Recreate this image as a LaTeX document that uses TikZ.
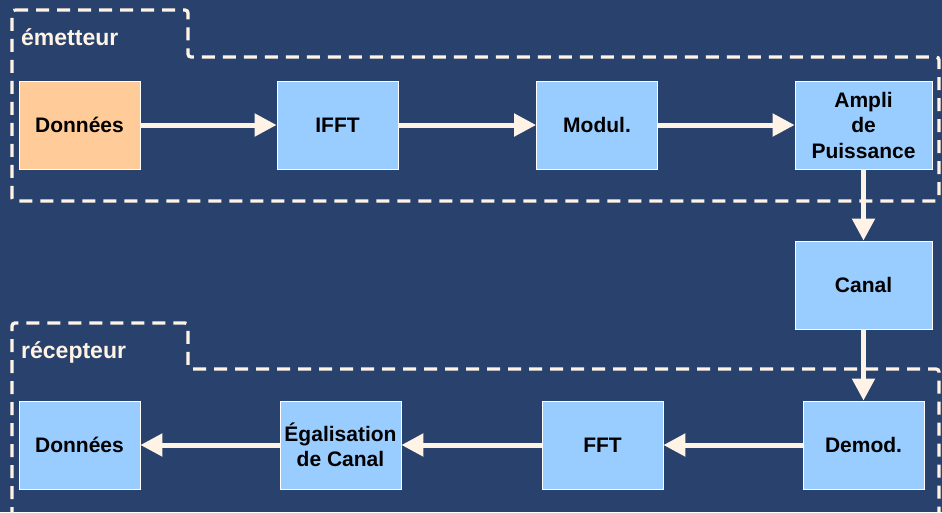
\documentclass[tikz,border=0pt]{standalone}
\usepackage{fontspec}
\setmainfont{Liberation Sans}
\usetikzlibrary{arrows.meta}
\definecolor{bgblue}{HTML}{28426D}
\definecolor{boxblue}{HTML}{99CCFF}
\definecolor{boxorange}{HTML}{FFCC99}
\definecolor{cream}{HTML}{FFF3E6}
\begin{document}
\begin{tikzpicture}[x=1pt, y=-1pt, line cap=butt,
  block/.style={draw=white, line width=0.8pt, fill=boxblue, minimum width=121pt,
    minimum height=88pt, inner sep=0pt, align=center,
    font=\fontsize{21}{25.5}\selectfont\bfseries},
  wide/.style={block, minimum width=137pt},
  flow/.style={cream, line width=5pt, -{Triangle[length=22pt, width=22pt]}},
  zone/.style={cream, line width=3.3pt, dash pattern=on 13pt off 8pt, rounded corners=3pt},
  zonelabel/.style={cream, anchor=base west, inner sep=0pt,
    font=\fontsize{23}{27}\selectfont\bfseries}]

  % background
  \fill[bgblue] (0,0) rectangle (942,512);
  \useasboundingbox (0,0) rectangle (942,512);

  % zones
  \draw[zone] (12,10) -- (188,10) -- (188,57) -- (939,57) -- (939,201) -- (12,201) -- cycle;
  \draw[zone] (12,520) -- (12,323) -- (188,323) -- (188,369) -- (939,369) -- (939,520);
  \node[zonelabel] (tx) at (21,45) {émetteur};
  \node[zonelabel] (rx) at (21,358) {récepteur};

  % blocks
  \node[block, fill=boxorange] (datatx) at (79.5,125) {Données};
  \node[block] (ifft) at (337.5,125) {IFFT};
  \node[block] (modul) at (597,125) {Modul.};
  \node[wide] (ampli) at (863.5,125) {Ampli\\de\\Puissance};
  \node[wide] (canal) at (863.5,285) {Canal};
  \node[block] (demod) at (863.5,445) {Demod.};
  \node[block] (fft) at (602.5,445) {FFT};
  \node[block] (egal) at (340.5,445) {Égalisation\\de Canal};
  \node[block] (datarx) at (79.5,445) {Données};

  % arrows
  \draw[flow] (datatx) -- (ifft);
  \draw[flow] (ifft) -- (modul);
  \draw[flow] (modul) -- (ampli);
  \draw[flow] (ampli) -- (canal);
  \draw[flow] (canal) -- (demod);
  \draw[flow] (demod) -- (fft);
  \draw[flow] (fft) -- (egal);
  \draw[flow] (egal) -- (datarx);
\end{tikzpicture}
\end{document}
